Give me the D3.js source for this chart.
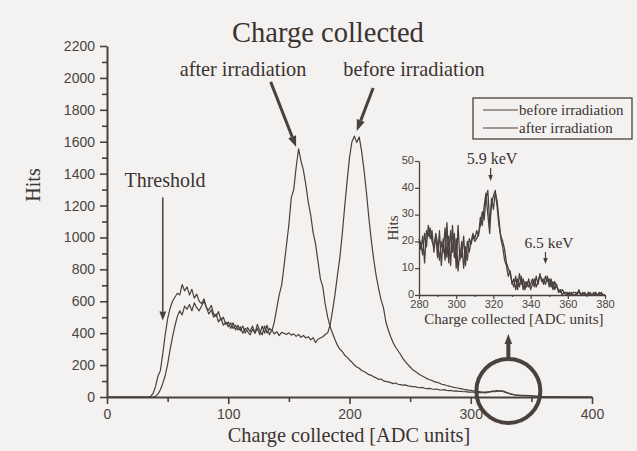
<!DOCTYPE html>
<html>
<head>
<meta charset="utf-8">
<script src="https://cdn.jsdelivr.net/npm/d3@7"></script>
<style>
  body { margin: 0; background: #f3f2f0; }
  svg { display: block; }
</style>
</head>
<body>
<div id="chart"></div>
<script>

// main histogram, ADC bins 0..400 step 2
let adc = d3.range(0, 401, 2);

let afterHits = [
  0, 0, 0, 0, 0, 0, 0, 0, 0, 0, 0, 0, 0, 0, 0, 0, 0, 0,
  4, 22, 65, 130, 165, 270, 390, 490, 555, 600,
  625, 650, 640, 705, 665, 690, 640, 675, 620, 645,
  600, 585, 615, 560, 545, 575, 520, 505, 535, 480,
  500, 455, 470, 430, 465, 420, 450, 415, 445, 400,
  435, 410, 445, 400, 455, 415, 390, 445, 400, 430,
  415, 470, 555, 640, 700, 820, 950, 1080, 1250, 1300,
  1440, 1555, 1480, 1420, 1330, 1220, 1140, 1030, 960, 850,
  740, 690, 580, 500, 440, 400, 360, 325, 300, 285,
  262, 250, 232, 218, 200, 188, 180, 166, 160, 150,
  140, 136, 126, 120, 110, 113, 101, 98, 95, 90,
  84, 88, 80, 78, 74, 76, 70, 68, 64, 66,
  60, 58, 60, 55, 52, 54, 50, 48, 50, 45,
  44, 46, 42, 40, 41, 37, 38, 35, 36, 33,
  34, 31, 30, 31, 28, 29, 27, 28, 26, 29,
  32, 35, 33, 36, 38, 36, 30, 26, 20, 16,
  13, 11, 10, 9, 10, 8, 8, 7, 5, 4,
  3, 3, 2, 2, 1, 2, 1, 1, 1, 0,
  1, 0, 0, 0, 0, 0, 0, 0, 0, 0,
  0, 0, 0
];

let beforeHits = [
  0, 0, 0, 0, 0, 0, 0, 0, 0, 0, 0, 0, 0, 0, 0, 0, 0, 0, 0, 0,
  4, 18, 45, 85, 135, 205, 295, 375, 445, 505,
  540, 515, 570, 550, 580, 540, 590, 560, 540, 570,
  600, 560, 520, 545, 500, 520, 470, 495, 450, 470,
  440, 465, 430, 450, 420, 440, 400, 430, 410, 390,
  425, 400, 430, 390, 445, 400, 450, 390, 420, 395,
  410, 385, 405, 400, 392, 402, 388, 396, 380, 392,
  374, 386, 370, 378, 358, 372, 342, 362, 370, 378,
  392, 402, 450, 540, 640, 760, 870, 1020, 1190, 1350,
  1500, 1600, 1635, 1595, 1630, 1540, 1420, 1280, 1120, 980,
  860, 760, 680, 610, 560, 470, 420, 378, 340, 312,
  290, 268, 242, 222, 204, 188, 172, 162, 150, 140,
  132, 124, 115, 108, 104, 96, 92, 88, 80, 78,
  72, 68, 64, 60, 58, 55, 52, 48, 46, 43,
  42, 38, 36, 35, 33, 31, 30, 32, 34, 37,
  38, 40, 36, 38, 34, 28, 22, 18, 14, 12,
  10, 11, 9, 10, 8, 8, 6, 5, 4, 3,
  3, 2, 2, 1, 1, 1, 0, 1, 0, 0,
  0, 0, 0, 0, 0, 0, 0, 0, 0, 0,
  0
];

// inset, ADC 280..380 step 1
let insetAdc = d3.range(280, 381, 1);

let insetBefore = [
  20, 17, 22, 12, 24, 22, 25, 20, 18, 22,
  14, 24, 11, 21, 13, 27, 12, 24, 16, 23,
  10, 26, 13, 20, 10, 18, 13, 21, 19, 22,
  20, 21, 23, 26, 31, 28, 36, 39, 27, 34,
  37, 39, 33, 26, 22, 20, 17, 12, 10, 8,
  5, 3, 7, 2, 8, 4, 6, 2, 5, 3,
  4, 6, 3, 7, 4, 8, 5, 6, 4, 7,
  3, 6, 2, 5, 3, 2, 1, 2, 1, 1,
  0, 1, 0, 1, 1, 0, 2, 0, 0, 1,
  0, 0, 1, 0, 0, 1, 0, 1, 0, 0,
  0
];

let insetAfter = [
  21, 19, 15, 23, 18, 26, 21, 24, 16, 23,
  19, 13, 20, 16, 25, 14, 22, 11, 26, 14,
  21, 9, 17, 14, 22, 11, 20, 16, 20, 23,
  21, 24, 22, 29, 26, 33, 38, 30, 23, 36,
  32, 38, 35, 28, 21, 18, 13, 11, 7, 9,
  4, 6, 2, 6, 3, 7, 2, 5, 3, 6,
  2, 4, 6, 3, 5, 7, 6, 4, 7, 5,
  6, 3, 5, 2, 4, 1, 2, 0, 1, 0,
  1, 0, 1, 0, 0, 1, 1, 0, 1, 0,
  0, 1, 0, 0, 1, 0, 0, 0, 1, 0,
  0
];

let mainXTicks = [0, 100, 200, 300, 400];
let mainYTicks = d3.range(0, 2201, 200);
let insetXTicks = [280, 300, 320, 340, 360, 380];
let insetYTicks = [0, 10, 20, 30, 40, 50];
let seriesNames = ['before irradiation', 'after irradiation'];

let width = 637;
let height = 451;
let ink = '#4a403e';
let textInk = '#3b3331';
let serif = '"Liberation Serif", "DejaVu Serif", serif';
let sans = '"Liberation Sans", Arial, sans-serif';

let svg = d3.select('#chart').append('svg')
  .attr('width', width)
  .attr('height', height);

svg.append('rect')
  .attr('width', width)
  .attr('height', height)
  .attr('fill', '#f3f2f0');

// ---- main chart ----
let x = d3.scaleLinear().domain([0, 400]).range([107, 592]);
let y = d3.scaleLinear().domain([0, 2200]).range([397, 46]);

let xAxis = svg.append('g')
  .attr('transform', `translate(0,${y(0)})`)
  .call(d3.axisBottom(x).tickValues(mainXTicks).tickSize(7).tickSizeOuter(0).tickPadding(5).tickFormat(d3.format('d')));
svg.append('g')
  .attr('transform', `translate(0,${y(0)})`)
  .call(d3.axisBottom(x).tickValues([50, 150, 250, 350]).tickSize(5).tickSizeOuter(0).tickFormat(''))
  .select('.domain').remove();

let yAxis = svg.append('g')
  .attr('transform', `translate(${x(0)},0)`)
  .call(d3.axisLeft(y).tickValues(mainYTicks).tickSize(7).tickSizeOuter(0).tickPadding(5).tickFormat(d3.format('d')));
svg.append('g')
  .attr('transform', `translate(${x(0)},0)`)
  .call(d3.axisLeft(y).tickValues(d3.range(100, 2200, 200)).tickSize(5).tickSizeOuter(0).tickFormat(''))
  .select('.domain').remove();

svg.selectAll('.domain').attr('stroke', ink).attr('stroke-width', 2);
svg.selectAll('.tick line').attr('stroke', ink).attr('stroke-width', 1.6);
[xAxis, yAxis].forEach(a => a.selectAll('text')
  .attr('font-family', sans).attr('font-size', 14).attr('fill', '#4a4442'));

let line = d3.line()
  .x((d, i) => x(adc[i]))
  .y(d => y(d));

[afterHits, beforeHits].forEach(series => {
  svg.append('path')
    .datum(series)
    .attr('d', line)
    .attr('fill', 'none')
    .attr('stroke', ink)
    .attr('stroke-width', 1.2)
    .attr('stroke-linejoin', 'round');
});

// titles
function label(tx, ty, size, str, anchor) {
  return svg.append('text')
    .attr('x', tx).attr('y', ty)
    .attr('text-anchor', anchor || 'middle')
    .attr('font-family', serif).attr('font-size', size)
    .attr('fill', textInk)
    .text(str);
}

label(328, 42, 28.5, 'Charge collected');
label(349, 442, 20.3, 'Charge collected [ADC units]');

svg.append('text')
  .attr('transform', 'translate(40,185) rotate(-90)')
  .attr('text-anchor', 'middle')
  .attr('font-family', serif).attr('font-size', 20)
  .attr('fill', textInk)
  .text('Hits');

// arrows
function arrow(x1, y1, x2, y2, w, head) {
  let a = Math.atan2(y2 - y1, x2 - x1);
  let bx = x2 - head * Math.cos(a);
  let by = y2 - head * Math.sin(a);
  svg.append('line')
    .attr('x1', x1).attr('y1', y1).attr('x2', bx).attr('y2', by)
    .attr('stroke', ink).attr('stroke-width', w);
  let hw = head * 0.38;
  svg.append('path')
    .attr('d', `M${x2},${y2}L${bx + hw * Math.sin(a)},${by - hw * Math.cos(a)}L${bx - hw * Math.sin(a)},${by + hw * Math.cos(a)}Z`)
    .attr('fill', ink);
}

label(243, 76, 20.3, 'after irradiation');
label(414, 76, 20.3, 'before irradiation');
label(165, 187, 20, 'Threshold');

arrow(x(135), y(1975), x(156), y(1567), 3, 11);
arrow(x(219.5), y(1937), x(206), y(1668), 3, 11);
arrow(x(46), y(1250), x(46), y(480), 1.5, 9);

// circle marking the region shown in the inset
svg.append('circle')
  .attr('cx', x(331)).attr('cy', y(38))
  .attr('r', 32)
  .attr('fill', 'none')
  .attr('stroke', ink)
  .attr('stroke-width', 4);
arrow(x(331), y(38) - 32, x(331), 334, 4, 10);

// ---- legend ----
let legend = svg.append('g');
legend.append('rect')
  .attr('x', 473).attr('y', 98).attr('width', 159).attr('height', 41)
  .attr('fill', 'none').attr('stroke', ink).attr('stroke-width', 1.3);
seriesNames.forEach((name, i) => {
  legend.append('line')
    .attr('x1', 483).attr('x2', 518)
    .attr('y1', 110 + i * 18).attr('y2', 110 + i * 18)
    .attr('stroke', ink).attr('stroke-width', 1.2);
  legend.append('text')
    .attr('x', 519).attr('y', 115 + i * 18)
    .attr('font-family', serif).attr('font-size', 15)
    .attr('fill', textInk)
    .text(name);
});

// ---- inset ----
let ix = d3.scaleLinear().domain([280, 380]).range([419, 605]);
let iy = d3.scaleLinear().domain([0, 50]).range([295, 161]);

let inset = svg.append('g');
let ixAxis = inset.append('g')
  .attr('transform', `translate(0,${iy(0)})`)
  .call(d3.axisBottom(ix).tickValues(insetXTicks).tickSize(4).tickSizeOuter(0).tickPadding(1));
inset.append('g')
  .attr('transform', `translate(0,${iy(0)})`)
  .call(d3.axisBottom(ix).tickValues(d3.range(290, 380, 20)).tickSize(2).tickSizeOuter(0).tickFormat(''))
  .select('.domain').remove();
let iyAxis = inset.append('g')
  .attr('transform', `translate(${ix(280)},0)`)
  .call(d3.axisLeft(iy).tickValues(insetYTicks).tickSize(4).tickSizeOuter(0).tickPadding(1));

inset.selectAll('.domain').attr('stroke', ink).attr('stroke-width', 1.3);
inset.selectAll('.tick line').attr('stroke', ink).attr('stroke-width', 1.2);
[ixAxis, iyAxis].forEach(a => a.selectAll('text')
  .attr('font-family', sans).attr('font-size', 11).attr('fill', '#4a4442'));
iyAxis.selectAll('.tick text').attr('dy', '0.2em');

let iline = d3.line()
  .x((d, i) => ix(insetAdc[i]))
  .y(d => iy(d));

[insetBefore, insetAfter].forEach(series => {
  inset.append('path')
    .datum(series)
    .attr('d', iline)
    .attr('fill', 'none')
    .attr('stroke', ink)
    .attr('stroke-width', 1.3)
    .attr('stroke-linejoin', 'round');
});

label(514, 324, 15, 'Charge collected [ADC units]');
svg.append('text')
  .attr('transform', 'translate(398,228) rotate(-90)')
  .attr('text-anchor', 'middle')
  .attr('font-family', serif).attr('font-size', 15)
  .attr('fill', textInk)
  .text('Hits');

label(492, 164, 16, '5.9 keV');
arrow(ix(318.5), 168, ix(318.5), 181, 1.2, 6);
label(549, 248, 15.5, '6.5 keV');
arrow(ix(348), 252, ix(348), 264, 1.2, 6);

</script>
</body>
</html>
